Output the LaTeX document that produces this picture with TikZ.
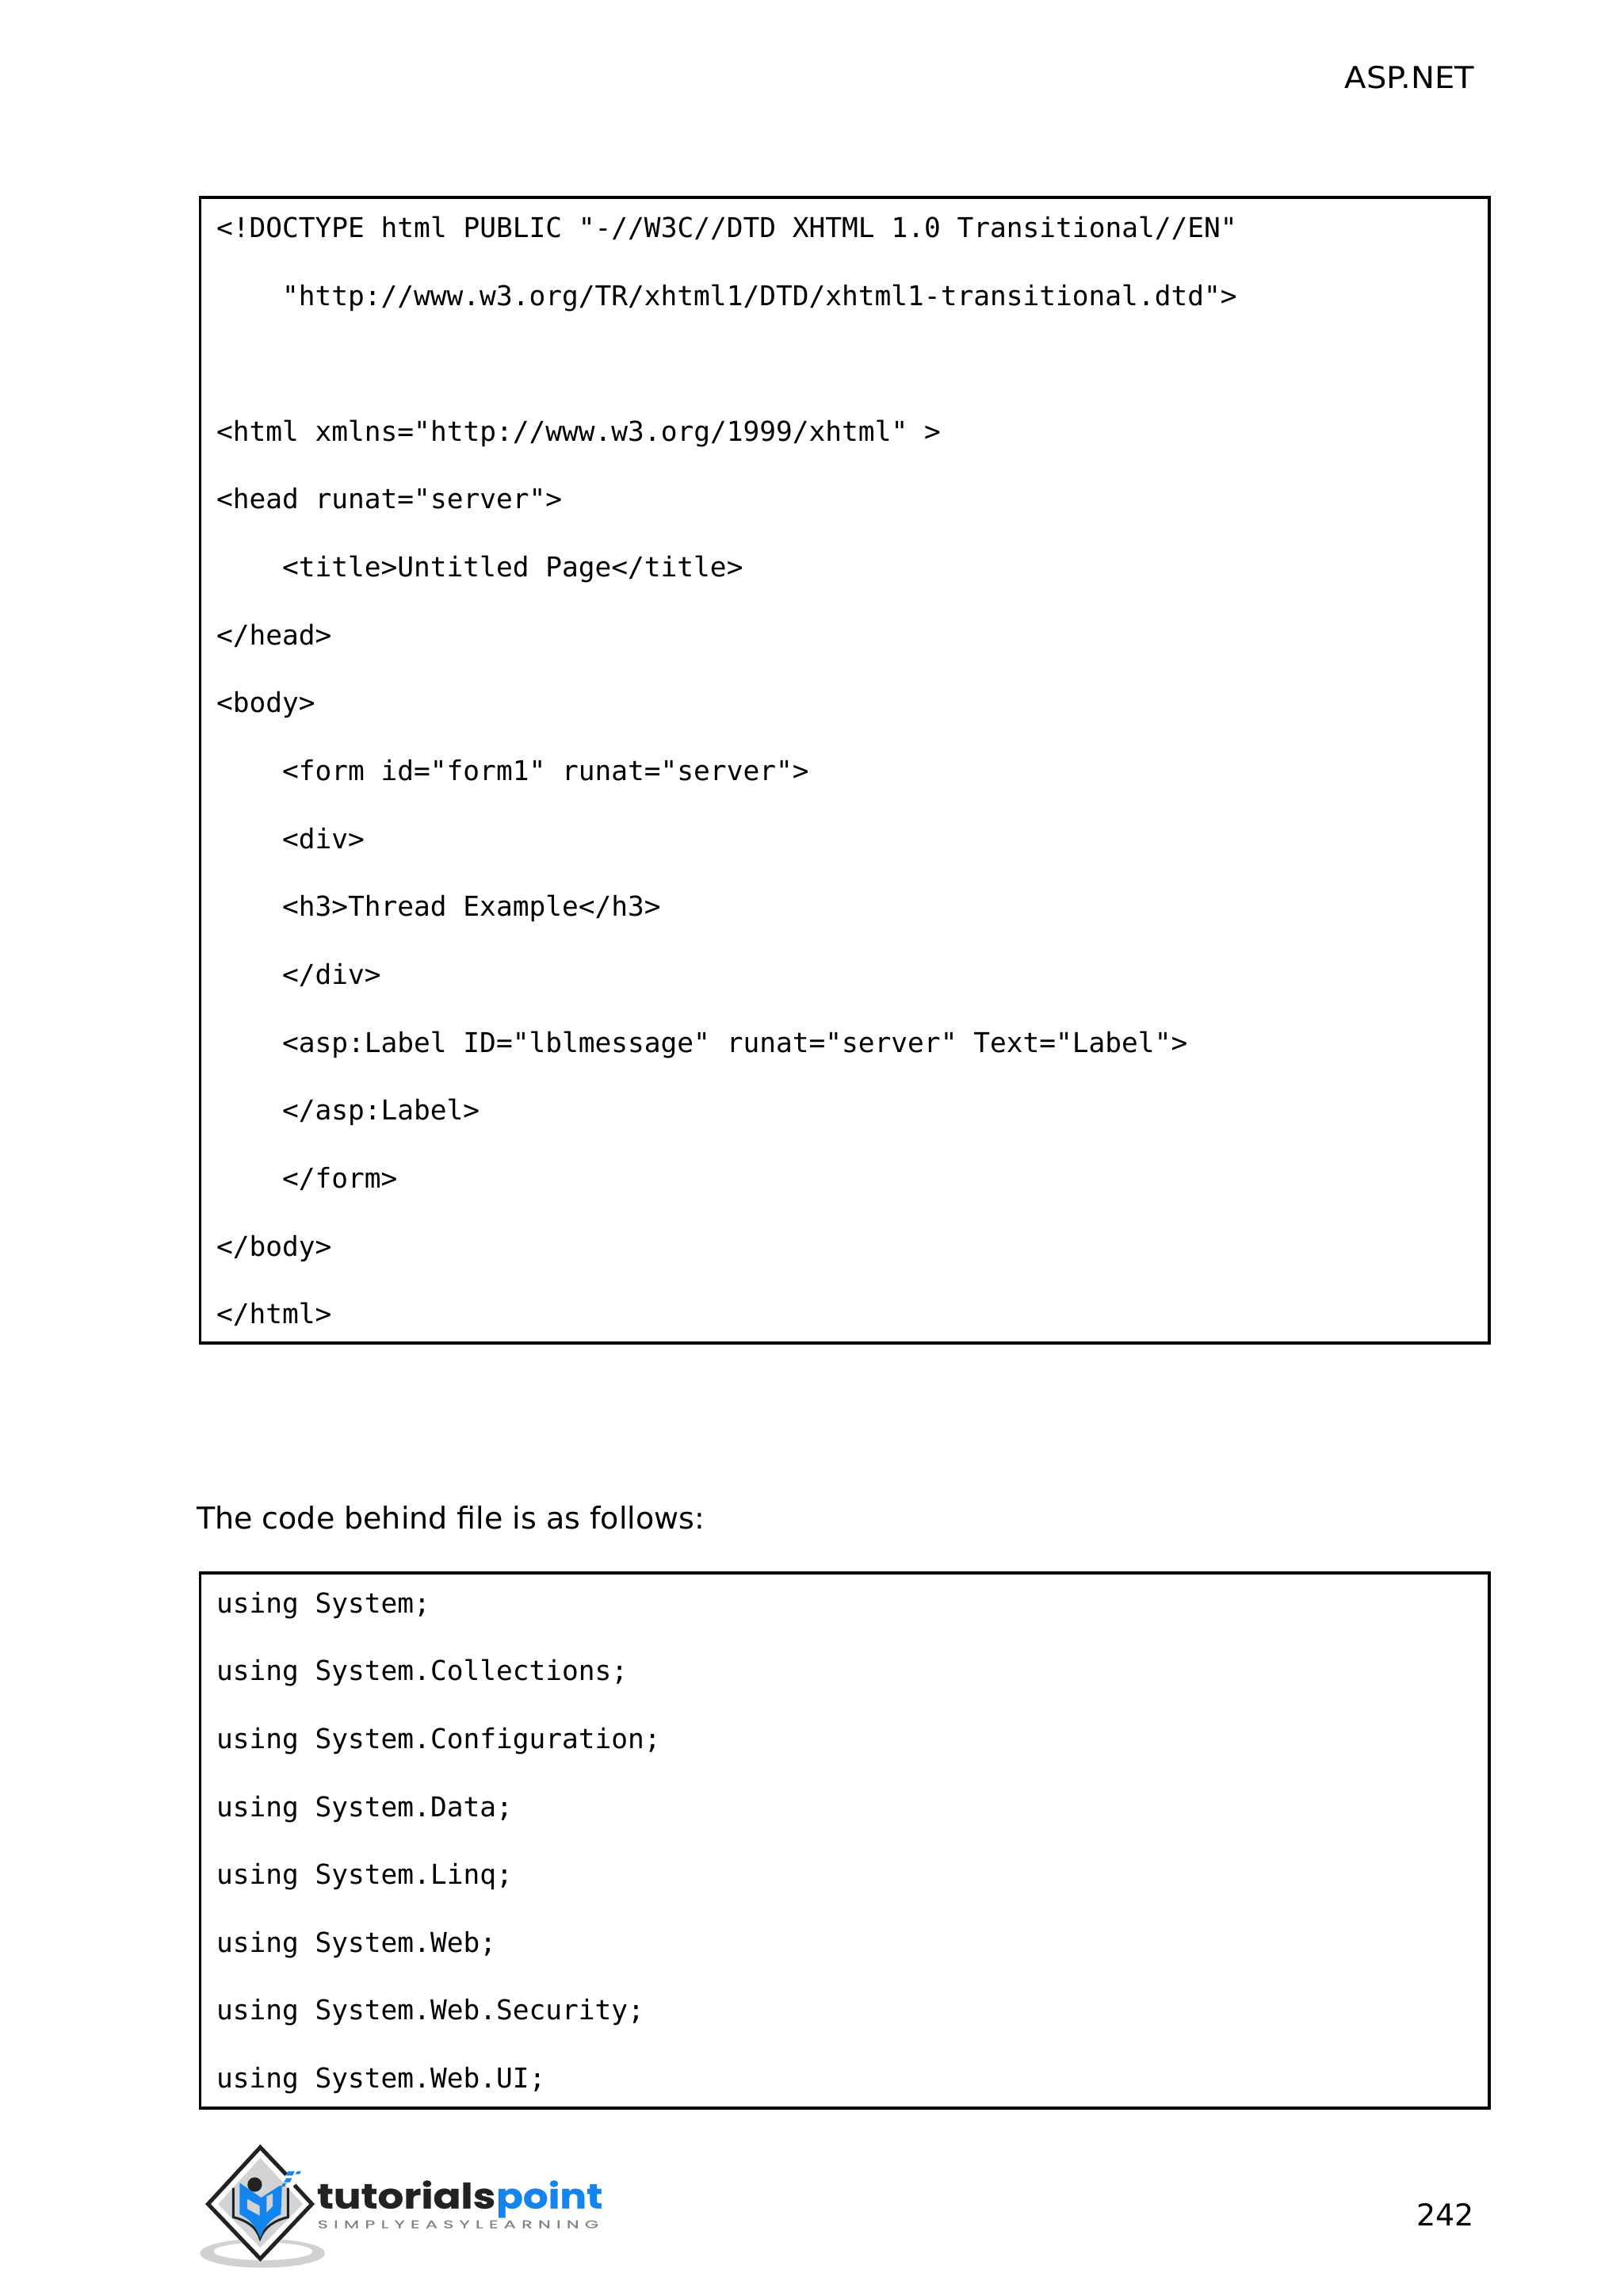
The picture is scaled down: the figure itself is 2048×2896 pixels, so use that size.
\documentclass[tikz,border=0pt]{standalone}
\usepackage{fontspec}
\setmainfont{DejaVu Sans}
\newfontfamily\headface[FakeStretch=1.055]{DejaVu Sans}
\newfontfamily\codeface{DejaVu Sans Mono}
\newfontfamily\logoface[FakeStretch=1.17,FakeBold=0.6]{Poppins}
\newfontfamily\logofaceb[FakeStretch=1.134,FakeBold=0.6]{Poppins}
\newfontfamily\tagface[FakeStretch=1.6,LetterSpace=52,FakeBold=0.3]{Poppins}
\definecolor{logoblue}{HTML}{1485EE}
\definecolor{logodark}{HTML}{222222}
\definecolor{logograyfill}{HTML}{D2D3D5}
\definecolor{shadowgray}{HTML}{D0D1D1}
\definecolor{taggray}{HTML}{7F8182}
\tikzset{
  codeline/.style={anchor=base west,inner sep=0pt,outer sep=0pt,font=\codeface\fontsize{34.5}{40}\selectfont,text=black},
  bodytext/.style={inner sep=0pt,outer sep=0pt,font=\fontsize{38}{44}\selectfont,text=black},
  headtext/.style={inner sep=0pt,outer sep=0pt,font=\headface\fontsize{38}{44}\selectfont,text=black},
  frame/.style={draw=black,line width=3.8pt,fill=none},
  logoword/.style={anchor=base west,inner sep=0pt,outer sep=0pt,font=\logoface\bfseries\fontsize{44}{48}\selectfont},
  logowordb/.style={anchor=base west,inner sep=0pt,outer sep=0pt,font=\logofaceb\bfseries\fontsize{44}{48}\selectfont},
  logotag/.style={anchor=base west,inner sep=0pt,outer sep=0pt,font=\tagface\fontsize{14}{16}\selectfont,text=taggray},
  pixel/.style={fill=logoblue,draw=none}
}
\begin{document}
\begin{tikzpicture}[x=1pt,y=-1pt]
\useasboundingbox (0,0) rectangle (2048,2896);
\fill[white] (0,0) rectangle (2048,2896);
% header and footer
\node[headtext,anchor=base east] (header) at (1860,111) {ASP.NET};
\node[bodytext,anchor=base east] (pageno) at (1860,2807) {242};
% first code box
\draw[frame] (252.5,249) rectangle (1878.7,1694);
\node[codeline] (a1) at (273,299.3) {<!DOCTYPE html PUBLIC "-//W3C//DTD XHTML 1.0 Transitional//EN"};
\node[codeline] (a2) at (356,385) {"http://www.w3.org/TR/xhtml1/DTD/xhtml1-transitional.dtd">};
\node[codeline] (a3) at (273,556.3) {<html xmlns="http://www.w3.org/1999/xhtml" >};
\node[codeline] (a4) at (273,641.9) {<head runat="server">};
\node[codeline] (a5) at (356,727.6) {<title>Untitled Page</title>};
\node[codeline] (a6) at (273,813.2) {</head>};
\node[codeline] (a7) at (273,898.9) {<body>};
\node[codeline] (a8) at (356,984.5) {<form id="form1" runat="server">};
\node[codeline] (a9) at (356,1070.2) {<div>};
\node[codeline] (a10) at (356,1155.8) {<h3>Thread Example</h3>};
\node[codeline] (a11) at (356,1241.5) {</div>};
\node[codeline] (a12) at (356,1327.1) {<asp:Label ID="lblmessage" runat="server" Text="Label">};
\node[codeline] (a13) at (356,1412.8) {</asp:Label>};
\node[codeline] (a14) at (356,1498.4) {</form>};
\node[codeline] (a15) at (273,1584.1) {</body>};
\node[codeline] (a16) at (273,1669.7) {</html>};
% paragraph
\node[bodytext,anchor=base west] (para) at (248,1928.3) {The code behind file is as follows:};
% second code box
\draw[frame] (252.5,1984.3) rectangle (1878.7,2658.7);
\node[codeline] (b1) at (273,2034) {using System;};
\node[codeline] (b2) at (273,2119.65) {using System.Collections;};
\node[codeline] (b3) at (273,2205.3) {using System.Configuration;};
\node[codeline] (b4) at (273,2291) {using System.Data;};
\node[codeline] (b5) at (273,2376.6) {using System.Linq;};
\node[codeline] (b6) at (273,2462.3) {using System.Web;};
\node[codeline] (b7) at (273,2547.9) {using System.Web.Security;};
\node[codeline] (b8) at (273,2633.6) {using System.Web.UI;};
% logo
\begin{scope}[shift={(240,2700)},x=0.3508pt,y=-0.3508pt]
  \fill[shadowgray] (260,405) ellipse [x radius=225,y radius=52];
  \fill[white] (262,398) ellipse [x radius=178,y radius=32];
  \fill[white] (252,12) -- (450,228) -- (252,437) -- (52,228) -- cycle;
  \fill[logograyfill] (252,62) -- (405,228) -- (252,385) -- (100,228) -- cycle;
  \draw[logodark,line width=5pt,miter limit=10] (345,122) -- (252,24) -- (64,228) -- (252,425) -- (438,228) -- (375,160);
  \draw[logodark,line width=3pt] (155,170) -- (155,275) .. controls (205,288) and (238,310) .. (251,352) .. controls (268,310) and (300,288) .. (352,275) -- (352,170);
  \fill[logodark] (232,158) circle [radius=26];
  \fill[logoblue] (178,152) -- (255,205) -- (322,162) -- (330,165) -- (326,265) .. controls (290,280) and (265,310) .. (252,350) .. controls (238,310) and (212,280) .. (178,265) -- cycle;
  \fill[logograyfill] (205,210) -- (250,235) -- (250,270) -- (205,245) -- cycle;
  \fill[logograyfill] (275,200) -- (297,190) -- (297,235) -- (275,258) -- cycle;
  \fill[pixel] (352,110) -- (376,110) -- (368,126) -- (344,126) -- cycle;
  \fill[pixel] (384,110) -- (399,110) -- (393,121) -- (378,121) -- cycle;
  \fill[pixel] (345,135) -- (366,135) -- (358,150) -- (337,150) -- cycle;
  \fill[pixel] (334,153) -- (346,153) -- (339,165) -- (327,165) -- cycle;
\end{scope}
\node[logoword,text=logodark] (tp1) at (400,2785.5) {tutorials};
\node[logowordb,text=logoblue] (tp2) at (626,2785.5) {point};
\node[logotag] (tag) at (400.7,2810.5) {SIMPLYEASYLEARNING};
\end{tikzpicture}
\end{document}
